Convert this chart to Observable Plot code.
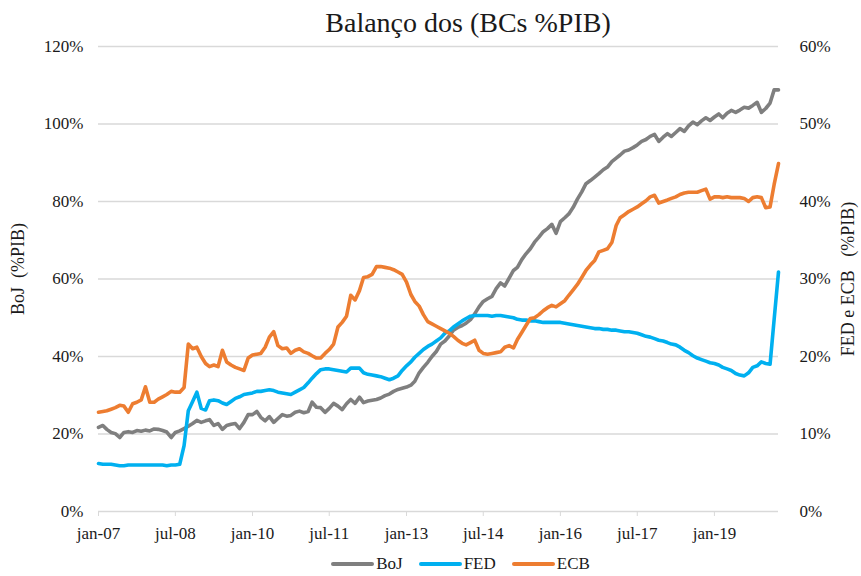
<!DOCTYPE html>
<html>
<head>
<meta charset="utf-8">
<script src="https://cdn.jsdelivr.net/npm/d3@7"></script>
<script src="https://cdn.jsdelivr.net/npm/@observablehq/plot@0.6"></script>
<style>
  body { margin: 0; background: #fff; font-family: "Palatino Linotype", "Book Antiqua", Palatino, "Liberation Serif", serif; color: #1a1a1a; }
  #wrap { width: 861px; height: 576px; position: relative; overflow: hidden; }
  #title { height: 34px; position: relative; }
  #title span { position: absolute; left: 468px; top: 9px; transform: translateX(-50%); font-size: 28px; white-space: nowrap; line-height: 1; }
  #legend { height: 24px; display: flex; justify-content: center; align-items: center; gap: 16px; font-size: 17px; position: relative; left: 30px; }
  .item { display: flex; align-items: center; gap: 2px; }
  .sw { width: 43px; height: 4px; border-radius: 2px; }
</style>
</head>
<body>
<div id="wrap">
  <div id="title"><span>Balanço dos (BCs %PIB)</span></div>
  <div id="chart"></div>
  <div id="legend"></div>
</div>
<script>
// Monthly, Jan 2007 .. Apr 2020
const startYear = 2007, startMonth = 0;

// BoJ balance sheet, % of GDP (left axis)
const boj = [
 21.7,22.2,21.2,20.4,20.1,19.1,20.4,20.6,20.4,20.9,20.7,21.0,
 20.8,21.3,21.2,20.9,20.5,19.1,20.4,20.8,21.4,22.0,22.7,23.5,
 23.0,23.4,23.7,22.2,22.7,21.2,22.2,22.5,22.7,21.4,23.0,25.0,
 25.0,25.8,24.3,23.4,24.5,23.0,24.0,25.0,24.6,24.8,25.6,25.9,
 25.5,25.8,28.2,26.9,26.8,25.6,26.6,27.9,27.2,26.3,27.8,28.9,
 27.9,29.5,28.1,28.5,28.7,28.9,29.3,29.9,30.3,31.0,31.5,31.8,
 32.1,32.6,33.6,35.8,37.2,38.5,40.0,41.3,43.2,44.0,45.3,46.8,
 47.5,48.0,48.6,49.5,51.0,52.8,54.2,54.9,55.5,57.5,59.0,58.2,
 60.2,62.2,63.0,65.0,66.5,67.8,69.5,70.8,72.2,73.0,74.1,71.8,
 74.8,75.8,76.8,78.5,80.6,82.5,84.6,85.4,86.3,87.2,88.2,88.9,
 90.3,91.2,92.0,93.0,93.3,93.9,94.6,95.5,96.0,96.8,97.3,95.5,
 96.6,97.5,96.8,97.8,98.8,98.1,99.5,100.5,99.8,100.8,101.6,100.9,
 101.8,102.6,101.6,102.8,103.5,103.0,103.6,104.3,104.1,104.8,105.6,103.0,
 104.0,105.4,108.8,108.8
];

// FED balance sheet, % of GDP (right axis)
const fed = [
 6.2,6.1,6.1,6.1,6.0,5.9,5.9,6.0,6.0,6.0,6.0,6.0,
 6.0,6.0,6.0,6.0,5.9,6.0,6.0,6.1,8.5,13.0,14.2,15.4,
 13.3,13.1,14.3,14.4,14.3,14.0,13.8,14.2,14.6,14.8,15.1,15.2,
 15.3,15.5,15.5,15.6,15.7,15.6,15.4,15.3,15.2,15.1,15.4,15.7,
 16.0,16.6,17.2,17.8,18.3,18.4,18.4,18.3,18.2,18.1,18.0,18.5,
 18.5,18.5,17.9,17.7,17.6,17.5,17.4,17.2,17.0,17.2,17.5,18.2,
 18.8,19.3,19.9,20.4,20.9,21.3,21.6,22.0,22.4,23.0,23.3,23.8,
 24.2,24.6,24.9,25.2,25.3,25.3,25.3,25.3,25.2,25.3,25.3,25.2,
 25.1,25.0,24.8,24.7,24.7,24.6,24.6,24.5,24.4,24.4,24.4,24.4,
 24.4,24.3,24.2,24.1,24.0,23.9,23.8,23.7,23.6,23.6,23.5,23.5,
 23.4,23.4,23.3,23.2,23.2,23.1,23.0,22.8,22.6,22.5,22.3,22.1,
 22.0,21.8,21.6,21.5,21.2,20.8,20.5,20.1,19.8,19.6,19.4,19.2,
 19.1,18.9,18.6,18.4,18.2,17.8,17.6,17.5,17.9,18.6,18.8,19.3,
 19.1,19.0,24.8,30.9
];

// ECB balance sheet, % of GDP (right axis)
const ecb = [
 12.8,12.9,13.0,13.2,13.4,13.7,13.6,12.8,13.9,14.1,14.4,16.1,
 14.1,14.1,14.5,14.8,15.1,15.5,15.4,15.4,16.0,21.6,21.0,21.2,
 20.0,19.1,18.7,18.9,18.7,20.8,19.3,18.9,18.6,18.4,18.2,19.8,
 20.2,20.3,20.4,21.2,22.5,23.2,21.4,21.0,21.1,20.4,20.8,21.0,
 20.6,20.4,20.1,19.8,19.8,20.4,20.9,21.6,23.8,24.4,25.2,27.9,
 27.3,28.5,30.2,30.3,30.6,31.6,31.6,31.5,31.4,31.2,30.9,30.6,
 29.6,28.0,27.1,26.5,25.4,24.5,24.2,23.9,23.6,23.3,23.0,22.6,
 22.1,21.7,21.5,21.8,22.1,20.8,20.4,20.3,20.4,20.5,20.6,21.2,
 21.4,21.1,22.2,23.1,24.0,24.9,25.0,25.4,25.9,26.3,26.6,26.4,
 26.8,27.2,27.9,28.6,29.3,30.2,31.1,31.8,32.4,33.5,33.7,33.9,
 34.7,36.9,37.9,38.3,38.7,39.0,39.3,39.7,40.1,40.6,40.8,39.8,
 40.0,40.2,40.4,40.6,40.9,41.1,41.2,41.2,41.2,41.4,41.6,40.3,
 40.6,40.6,40.5,40.6,40.5,40.5,40.5,40.4,40.0,40.5,40.6,40.5,
 39.2,39.3,42.2,44.9
];

const seriesNames = ["BoJ", "FED", "ECB"];
const seriesColors = ["#7f7f7f", "#00b0f0", "#ed7d31"];
const rightAxisFactor = 2; // left 0–120% ↔ right 0–60%

const tickLabels = ["jan-07","jul-08","jan-10","jul-11","jan-13","jul-14","jan-16","jul-17","jan-19"];
const leftTicks = [0, 20, 40, 60, 80, 100, 120];

const date = i => new Date(Date.UTC(startYear, startMonth + i, 1));
const rows = [];
boj.forEach((v, i) => rows.push({date: date(i), series: "BoJ", value: v, y: v}));
fed.forEach((v, i) => rows.push({date: date(i), series: "FED", value: v, y: v * rightAxisFactor}));
ecb.forEach((v, i) => rows.push({date: date(i), series: "ECB", value: v, y: v * rightAxisFactor}));

const tickDates = tickLabels.map((_, k) => date(k * 18));
const labelByTime = new Map(tickDates.map((d, k) => [+d, tickLabels[k]]));

const font = '"Palatino Linotype", "Book Antiqua", Palatino, "Liberation Serif", serif';

const chart = Plot.plot({
  width: 861,
  height: 518,
  marginTop: 12,
  marginBottom: 41,
  marginLeft: 98,
  marginRight: 83,
  style: {fontFamily: font, fontSize: "17px", color: "#1a1a1a", background: "transparent"},
  x: {type: "utc", domain: [date(0), date(boj.length - 1)]},
  y: {domain: [0, 120]},
  color: {domain: seriesNames, range: seriesColors},
  marks: [
    Plot.gridY(leftTicks, {stroke: "#d9d9d9", strokeOpacity: 1, strokeWidth: 1.3}),
    Plot.axisY({ticks: leftTicks, tickFormat: d => d + "%", tickSize: 0, tickPadding: 15, label: null}),
    Plot.axisY({anchor: "right", ticks: leftTicks, tickFormat: d => (d / rightAxisFactor) + "%", tickSize: 0, tickPadding: 21, label: null, textAnchor: "start"}),
    Plot.axisX({ticks: tickDates, tickFormat: d => labelByTime.get(+d), tickSize: 5, stroke: "#d9d9d9", strokeOpacity: 1, tickPadding: 10, label: null}),
    Plot.lineY(rows, {x: "date", y: "y", z: "series", stroke: "series", strokeWidth: 3.6, strokeLinejoin: "round", strokeLinecap: "round"}),
    Plot.text(["BoJ  (%PIB)"], {frameAnchor: "left", textAnchor: "middle", dx: -80, dy: -10, rotate: -90, fontSize: 18, fill: "#1a1a1a"}),
    Plot.text(["FED e ECB   (%PIB)"], {frameAnchor: "right", textAnchor: "middle", dx: 70, dy: 0, rotate: -90, fontSize: 18, fill: "#1a1a1a"})
  ]
});
chart.querySelectorAll("text").forEach(t => t.setAttribute("xml:space", "preserve"));
chart.style.whiteSpace = "pre";
document.getElementById("chart").appendChild(chart);

const legend = document.getElementById("legend");
seriesNames.forEach((n, k) => {
  const it = document.createElement("div");
  it.className = "item";
  const sw = document.createElement("div");
  sw.className = "sw";
  sw.style.background = seriesColors[k];
  const lb = document.createElement("span");
  lb.textContent = n;
  it.appendChild(sw); it.appendChild(lb);
  legend.appendChild(it);
});
</script>
</body>
</html>
